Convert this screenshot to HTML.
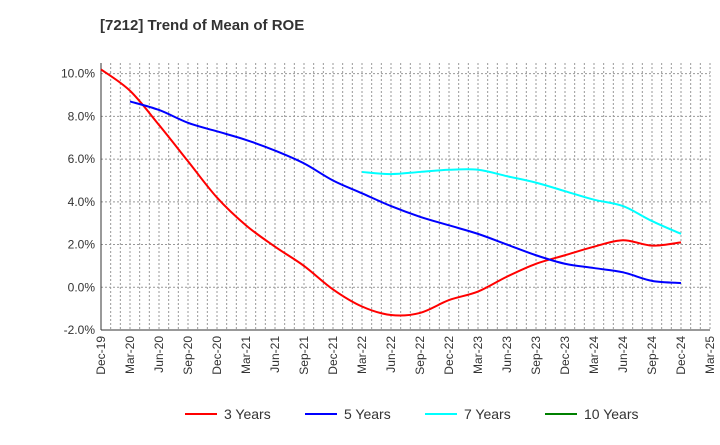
<!DOCTYPE html>
<html><head><meta charset="utf-8"><style>
body{margin:0;background:#fff;font-family:"Liberation Sans",sans-serif}
</style></head><body>
<svg id="c" width="720" height="440" xmlns="http://www.w3.org/2000/svg">
<text x="100" y="30" font-size="15" font-weight="bold" fill="#333">[7212]  Trend of Mean of ROE</text>
<g id="grid"></g><g id="axes"></g><g id="series"></g><g id="legend"></g>
</svg>
<script>
const xLabels=["Dec-19","Mar-20","Jun-20","Sep-20","Dec-20","Mar-21","Jun-21","Sep-21","Dec-21","Mar-22","Jun-22","Sep-22","Dec-22","Mar-23","Jun-23","Sep-23","Dec-23","Mar-24","Jun-24","Sep-24","Dec-24","Mar-25"];
const yTicks=[-2,0,2,4,6,8,10];
const seriesNames=["3 Years","5 Years","7 Years","10 Years"];
const seriesColors=["#ff0000","#0000ff","#00ffff","#008000"];
const y3=[10.2,9.2,7.6,5.9,4.2,2.9,1.9,1.0,-0.1,-0.9,-1.3,-1.2,-0.6,-0.2,0.5,1.1,1.5,1.9,2.2,1.95,2.1];
const y5=[null,8.7,8.3,7.7,7.3,6.9,6.4,5.8,5.0,4.4,3.8,3.3,2.9,2.5,2.0,1.5,1.1,0.9,0.7,0.3,0.2];
const y7=[null,null,null,null,null,null,null,null,null,5.4,5.3,5.4,5.5,5.5,5.2,4.9,4.5,4.1,3.8,3.1,2.5];
const y10=[];
const L=101,R=710,T=63,B=330,yMin=-2,yMax=10.5;
const X=i=>L+(R-L)*i/(xLabels.length-1);
const Y=v=>B-(B-T)*(v-yMin)/(yMax-yMin);
const NS="http://www.w3.org/2000/svg";
function mk(p,t,a){const e=document.createElementNS(NS,t);for(const k in a)e.setAttribute(k,a[k]);p.appendChild(e);return e;}
const g=document.getElementById('grid'),ax=document.getElementById('axes'),sg=document.getElementById('series'),lg=document.getElementById('legend');
for(let m=1;m<=(xLabels.length-1)*3;m++){const x=L+(R-L)*m/((xLabels.length-1)*3);
const l=mk(g,'line',{x1:x,x2:x,y1:T,y2:B,stroke:'#999','stroke-dasharray':'2,2','stroke-width':1});

}
yTicks.forEach(v=>{const y=Y(v);
const l=mk(g,'line',{x1:L,x2:R,y1:y,y2:y,stroke:'#999','stroke-dasharray':'2,2','stroke-width':1});


const t=mk(ax,'text',{x:L-6,y:y+4,'text-anchor':'end','font-size':12,fill:'#333'});t.textContent=v.toFixed(1)+'%';

});
const yl=mk(ax,'line',{x1:L,x2:L,y1:T,y2:B,stroke:'#333','stroke-width':1});


const xl=mk(ax,'line',{x1:L,x2:R,y1:B,y2:B,stroke:'#333','stroke-width':1});


xLabels.forEach((s,i)=>{const x=X(i);
const t=mk(ax,'text',{x:x+4,y:B+6,'text-anchor':'end','font-size':12,fill:'#333',transform:`rotate(-90 ${x+4} ${B+6})`});t.textContent=s;

});
function path(arr){const pts=[];arr.forEach((v,i)=>{if(v!=null)pts.push([X(i),Y(v)]);});
if(pts.length<2)return '';let d=`M${pts[0][0]},${pts[0][1]}`;
for(let i=0;i<pts.length-1;i++){const p0=pts[i-1]||pts[i],p1=pts[i],p2=pts[i+1],p3=pts[i+2]||p2;
d+=` C${p1[0]+(p2[0]-p0[0])/6},${p1[1]+(p2[1]-p0[1])/6} ${p2[0]-(p3[0]-p1[0])/6},${p2[1]-(p3[1]-p1[1])/6} ${p2[0]},${p2[1]}`;}return d;}
[y3,y5,y7,y10].forEach((arr,k)=>{const d=path(arr);if(!d)return;
const p=mk(sg,'path',{d:d,fill:'none',stroke:seriesColors[k],'stroke-width':2});

});
const lx=[185,305,425,545];
seriesNames.forEach((n,k)=>{
const e=mk(lg,'g',{});


mk(e,'line',{x1:lx[k],x2:lx[k]+32,y1:414,y2:414,stroke:seriesColors[k],'stroke-width':2});
const t=mk(e,'text',{x:lx[k]+39,y:419,'font-size':14,fill:'#333'});t.textContent=n;});
</script>
</body></html>
